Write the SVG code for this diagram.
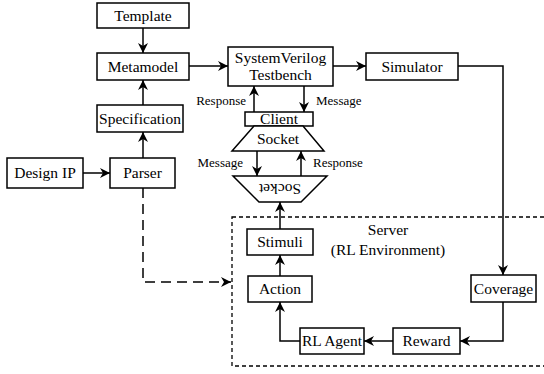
<svg xmlns="http://www.w3.org/2000/svg" width="544" height="374" viewBox="0 0 544 374">
<style>
.box{fill:#fff;stroke:#000;stroke-width:1.5}
.t{font-family:'Liberation Serif',Tinos,'Times New Roman',Times,'DejaVu Serif',serif;font-size:15.5px;fill:#000;text-anchor:middle}
.s{font-family:'Liberation Serif',Tinos,'Times New Roman',Times,'DejaVu Serif',serif;font-size:13px;fill:#000}
.c{fill:none;stroke:#000;stroke-width:1.5}
</style>
<defs>
<marker id="ah" viewBox="0 0 10 10" refX="10" refY="5" markerWidth="10" markerHeight="10" markerUnits="userSpaceOnUse" orient="auto">
<path d="M0,0 L10,5 L0,10 L3,5 z" fill="#000"/>
</marker>
</defs>
<rect x="0" y="0" width="544" height="374" fill="#fff"/>
<g id="server">
<rect x="232" y="217" width="314" height="149" fill="none" stroke="#000" stroke-width="1.3" stroke-dasharray="4,3"/>
<text class="t" x="388" y="235">Server</text>
<text class="t" x="388" y="255">(RL Environment)</text>
</g>
<g id="connectors">
<path class="c" d="M143,28 V53" marker-end="url(#ah)"/>
<path class="c" d="M143,105 V80" marker-end="url(#ah)"/>
<path class="c" d="M143,158 V132" marker-end="url(#ah)"/>
<path class="c" d="M83,173 H110" marker-end="url(#ah)"/>
<path class="c" d="M189,66 H228" marker-end="url(#ah)"/>
<path class="c" d="M333,66 H366" marker-end="url(#ah)"/>
<path class="c" d="M458,66 H503 V275" marker-end="url(#ah)"/>
<path class="c" d="M503,302 V341 H460" marker-end="url(#ah)"/>
<path class="c" d="M393,341 H364" marker-end="url(#ah)"/>
<path class="c" d="M300,341 H280 V302" marker-end="url(#ah)"/>
<path class="c" d="M280,276 V255" marker-end="url(#ah)"/>
<path class="c" d="M280,229 V202" marker-end="url(#ah)"/>
<path class="c" d="M254,112 V86" marker-end="url(#ah)"/>
<path class="c" d="M304,86 V112" marker-end="url(#ah)"/>
<path class="c" d="M257,151 V176" marker-end="url(#ah)"/>
<path class="c" d="M301,176 V151" marker-end="url(#ah)"/>
<path class="c" d="M143,188 V282 H231" stroke-dasharray="10,6" marker-end="url(#ah)"/>
<text class="s" x="246" y="105" text-anchor="end">Response</text>
<text class="s" x="316" y="105">Message</text>
<text class="s" x="243" y="167" text-anchor="end">Message</text>
<text class="s" x="313" y="167">Response</text>
</g>
<g id="template"><rect class="box" x="97" y="3" width="92" height="25"/><text class="t" x="143" y="21">Template</text></g>
<g id="metamodel"><rect class="box" x="97" y="53" width="92" height="27"/><text class="t" x="143" y="72">Metamodel</text></g>
<g id="specification"><rect class="box" x="97" y="105" width="86" height="27"/><text class="t" x="140" y="124">Specification</text></g>
<g id="designip"><rect class="box" x="7" y="158" width="76" height="30"/><text class="t" x="45" y="178">Design IP</text></g>
<g id="parser"><rect class="box" x="110" y="158" width="65" height="30"/><text class="t" x="142.5" y="178">Parser</text></g>
<g id="testbench"><rect class="box" x="228" y="47" width="105" height="39"/><text class="t" x="280.5" y="63">SystemVerilog</text><text class="t" x="280.5" y="80">Testbench</text></g>
<g id="simulator"><rect class="box" x="366" y="53" width="92" height="27"/><text class="t" x="412" y="72">Simulator</text></g>
<g id="client"><rect class="box" x="245" y="112" width="68" height="14"/><text class="t" x="279" y="124">Client</text></g>
<g id="socket-top"><polygon class="box" points="254,126 303,126 324,151 232,151"/><text class="t" x="278" y="144">Socket</text></g>
<g id="socket-bottom"><polygon class="box" points="233,176 327,176 301,202 259,202"/><text class="t" x="0" y="0" transform="translate(280,184) rotate(180)">Socket</text></g>
<g id="stimuli"><rect class="box" x="247" y="229" width="66" height="26"/><text class="t" x="280" y="247">Stimuli</text></g>
<g id="action"><rect class="box" x="248" y="276" width="64" height="26"/><text class="t" x="280" y="294">Action</text></g>
<g id="rlagent"><rect class="box" x="300" y="328" width="64" height="26"/><text class="t" x="332" y="346">RL Agent</text></g>
<g id="reward"><rect class="box" x="393" y="328" width="67" height="26"/><text class="t" x="426.5" y="346">Reward</text></g>
<g id="coverage"><rect class="box" x="471" y="275" width="65" height="27"/><text class="t" x="503.5" y="294">Coverage</text></g>
</svg>
